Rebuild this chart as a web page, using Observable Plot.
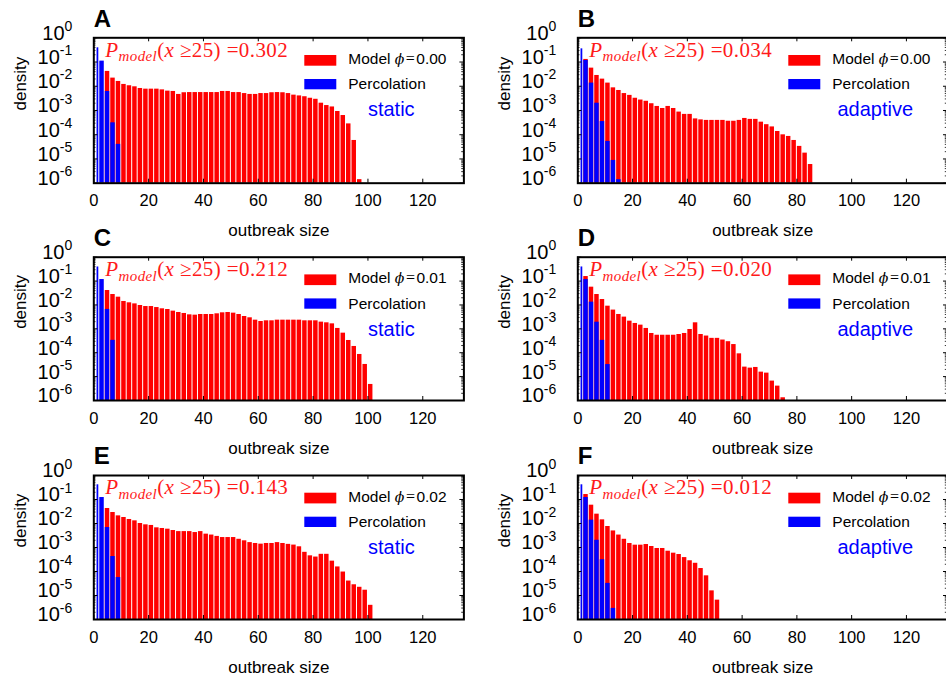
<!DOCTYPE html>
<html><head><meta charset="utf-8">
<script src="https://cdn.jsdelivr.net/npm/d3@7"></script>
<script src="https://cdn.jsdelivr.net/npm/@observablehq/plot@0.6"></script>
<style>
html,body{margin:0;padding:0;background:#fff;overflow:hidden;}
#fig{position:relative;width:946px;height:681px;overflow:hidden;background:#fff;}
#fig svg{position:absolute;overflow:visible;background:transparent;}
</style></head><body><div id="fig"></div>
<script>
const SANS = '"Liberation Sans", Arial, Helvetica, sans-serif';
const SERIF = '"Liberation Serif", "Times New Roman", serif';

// histogram bin edges (outbreak size)
const binEdges = [1,2,4,6,8,10,12,14,16,18,20,22,24,26,28,30,32,34,36,38,40,42,44,46,48,50,52,54,56,58,60,62,64,66,68,70,72,74,76,78,80,82,84,86,88,90,92,94,96,98,100,102];
const xTicks = [0,20,40,60,80,100,120];
const xTickLabels = ["0","20","40","60","80","100","120"];
const yTicks = [1e-6,1e-5,1e-4,1e-3,1e-2,1e-1,1];
const yTickExponents = ["-6","-5","-4","-3","-2","-1","0"];
const yMinorTicks = [2e-6,3e-6,4e-6,5e-6,6e-6,7e-6,8e-6,9e-6,2e-5,3e-5,4e-5,5e-5,6e-5,7e-5,8e-5,9e-5,2e-4,3e-4,4e-4,5e-4,6e-4,7e-4,8e-4,9e-4,2e-3,3e-3,4e-3,5e-3,6e-3,7e-3,8e-3,9e-3,0.02,0.03,0.04,0.05,0.06,0.07,0.08,0.09,0.2,0.3,0.4,0.5,0.6,0.7,0.8,0.9];

const panelLetters = ["A","B","C","D","E","F"];
const networkTypes = ["static","adaptive","static","adaptive","static","adaptive"];
const phiLabels = ["0.00","0.00","0.01","0.01","0.02","0.02"];
const pModelLabels = ["0.302","0.034","0.212","0.020","0.143","0.012"];

// density per bin (Model, red)
const modelA = [null,null,0.041,0.0217,0.0158,0.0119,0.0105,0.0095,0.0081,0.0076,0.0076,0.0076,0.0071,0.0063,0.0061,0.0046,0.0054,0.0055,0.0055,0.0055,0.0055,0.0055,0.0055,0.0061,0.0061,0.0055,0.0055,0.0050,0.0046,0.0046,0.0050,0.0050,0.0054,0.0055,0.0054,0.0050,0.0043,0.0040,0.0037,0.0032,0.0029,0.0020,0.0016,0.0014,0.00091,0.00062,0.00028,0.000058,0.0000014];
const modelB = [null,0.128,0.056,0.0279,0.0197,0.0135,0.0086,0.0067,0.0050,0.0042,0.0032,0.0027,0.0024,0.0019,0.00147,0.00121,0.00147,0.00121,0.00086,0.00069,0.00069,0.00045,0.00041,0.00039,0.00039,0.00039,0.00039,0.00036,0.00036,0.00039,0.00047,0.00043,0.00043,0.00033,0.00026,0.00021,0.000136,0.000099,0.000085,0.000058,0.000033,0.0000174,0.0000059];
const modelC = [null,null,0.0403,0.0274,0.0212,0.0140,0.0123,0.0111,0.0095,0.0086,0.0086,0.0078,0.0069,0.00646,0.00551,0.00484,0.00440,0.00386,0.00374,0.00399,0.00399,0.00399,0.00426,0.00469,0.00484,0.00454,0.00399,0.00329,0.00290,0.00231,0.00203,0.00217,0.00217,0.00231,0.00231,0.00231,0.00231,0.00231,0.00217,0.00217,0.00217,0.00191,0.00179,0.00162,0.00104,0.00066,0.000326,0.000183,0.0000846,0.0000323,0.0000047];
const modelD = [null,0.155,0.0556,0.0274,0.0169,0.0089,0.0061,0.0040,0.0031,0.0021,0.00168,0.00143,0.00104,0.00064,0.00054,0.00054,0.00054,0.00054,0.00058,0.00064,0.00094,0.00179,0.00058,0.00050,0.00040,0.00040,0.00034,0.00029,0.00022,0.000090,0.000025,0.0000227,0.0000242,0.0000154,0.0000140,0.0000065,0.0000040,0.0000013];
const modelE = [null,null,0.0422,0.0287,0.0208,0.0178,0.0147,0.0129,0.0100,0.0088,0.0083,0.0066,0.0062,0.0058,0.0051,0.0046,0.0046,0.0046,0.0042,0.0046,0.0036,0.0033,0.0029,0.0026,0.0026,0.0026,0.0022,0.0019,0.0016,0.00147,0.00138,0.00147,0.00147,0.0016,0.00147,0.00135,0.00126,0.00107,0.00063,0.00045,0.00040,0.00052,0.00052,0.00027,0.000155,0.000095,0.000040,0.000028,0.000022,0.0000166,0.0000039];
const modelF = [null,0.161,0.058,0.0245,0.0142,0.0075,0.0049,0.0033,0.0022,0.00147,0.00125,0.00125,0.00133,0.0011,0.00091,0.00091,0.0007,0.00058,0.00051,0.00038,0.00028,0.00022,0.000133,0.000066,0.0000156,0.0000064];

// density per bin (Percolation, blue)
const percA = [0.386,0.109,0.0061,0.00031,0.00004];
const percB = [0.35,0.116,0.0135,0.0020,0.00035,0.000053,0.0000087,0.0000014];
const percC = [0.39,0.116,0.0065,0.00033];
const percD = [0.39,0.116,0.0131,0.0019,0.00033,0.000032];
const percE = [0.41,0.121,0.0068,0.00042,0.000056];
const percF = [0.41,0.121,0.0138,0.0020,0.00031,0.000032,0.0000029];

const modelSeries = [modelA,modelB,modelC,modelD,modelE,modelF];
const percSeries = [percA,percB,percC,percD,percE,percF];

const rows = [{top:0, mTop:37.3, plotH:145.4},{top:219, mTop:37.7, plotH:143.3},{top:437, mTop:38, plotH:144}];
const cols = [{left:0, width:470, mLeft:93.3, mRight:6.6},{left:470, width:477, mLeft:107.3, mRight:0}];
const mBottom = 62;

function toBars(vals){
  const out = [];
  vals.forEach((v,k)=>{ if (v != null) out.push({x1: binEdges[k], x2: binEdges[k+1], y: v}); });
  return out;
}

function panel(i){
  const r = rows[Math.floor(i/2)], c = cols[i%2];
  const height = r.mTop + r.plotH + mBottom;
  const plotW = c.width - c.mLeft - c.mRight;
  const plotH = r.plotH;

  const yLabels = (index, scales, values, dims) => {
    const g = d3.create("svg:g").attr("font-family", SANS).attr("fill", "black");
    yTicks.forEach((v, k) => {
      const t = g.append("text").attr("x", dims.marginLeft - 21).attr("y", scales.y(v) + 2.4)
        .attr("text-anchor", "end").attr("font-size", 20);
      t.append("tspan").text("10");
      t.append("tspan").attr("font-size", 14).attr("dy", -8.7).text(yTickExponents[k]);
    });
    return g.node();
  };

  const annotations = (index, scales, values, dims) => {
    const x0 = dims.marginLeft, y0 = dims.marginTop;
    const g = d3.create("svg:g").attr("text-anchor", "start");
    // panel letter
    g.append("text").attr("x", x0 + 0.5).attr("y", y0 - 10.6).attr("font-family", SANS).attr("text-anchor", "start")
      .attr("font-weight", "bold").attr("font-size", 24).attr("fill", "black").text(panelLetters[i]);
    // P_model annotation
    const p = g.append("text").attr("x", x0 + 12).attr("y", y0 + 19.4).attr("font-family", SERIF).attr("text-anchor", "start")
      .attr("font-size", 21).attr("fill", "#ff1a1a").attr("letter-spacing", 0.4);
    p.append("tspan").attr("font-style", "italic").text("P");
    p.append("tspan").attr("font-style", "italic").attr("font-size", 15).attr("dy", 4.5).text("model");
    p.append("tspan").attr("dy", -4.5).text("(");
    p.append("tspan").attr("font-style", "italic").text("x");
    p.append("tspan").text(" \u226525) =" + pModelLabels[i]);
    // legend
    g.append("rect").attr("x", x0 + 211).attr("y", y0 + 17.7).attr("width", 32).attr("height", 10.7).attr("fill", "red");
    g.append("rect").attr("x", x0 + 211).attr("y", y0 + 41.7).attr("width", 32).attr("height", 10.3).attr("fill", "blue");
    const m = g.append("text").attr("x", x0 + 255).attr("y", y0 + 21 + 5.5).attr("font-family", SANS).attr("text-anchor", "start")
      .attr("font-size", 15.5).attr("fill", "black");
    m.append("tspan").text("Model ");
    m.append("tspan").attr("font-family", '"DejaVu Serif", serif').attr("font-style", "italic").attr("font-size", 14).text("\u03D5");
    m.append("tspan").attr("font-family", SERIF).attr("font-size", 16).attr("dx", 1.5).text("=");
    m.append("tspan").attr("dx", 1.5).text(phiLabels[i]);
    g.append("text").attr("x", x0 + 255).attr("y", y0 + 46.5 + 5.5).attr("font-family", SANS).attr("text-anchor", "start")
      .attr("font-size", 15.5).attr("fill", "black").text("Percolation");
    g.append("text").attr("x", x0 + 298).attr("y", y0 + 72 + 7).attr("text-anchor", "middle")
      .attr("font-family", SANS).attr("font-size", 20).attr("fill", "blue").text(networkTypes[i]);
    return g.node();
  };

  const chart = Plot.plot({
    width: c.width, height,
    marginLeft: c.mLeft, marginRight: c.mRight, marginTop: r.mTop, marginBottom: mBottom,
    x: {domain: [0, 135], axis: null},
    y: {type: "log", domain: [1e-6, 1], axis: null},
    style: {fontFamily: SANS, background: "transparent", overflow: "visible"},
    marks: [
      Plot.rectY(toBars(modelSeries[i]), {x1: "x1", x2: "x2", y1: () => 1e-6, y2: "y", fill: "red", insetLeft: 0.5, insetRight: 0.5}),
      Plot.rectY(toBars(percSeries[i]), {x1: "x1", x2: "x2", y1: () => 1e-6, y2: "y", fill: "blue", insetLeft: 0.5, insetRight: 0.5}),
      Plot.tickX(xTicks, {x: d => d, stroke: "black", strokeWidth: 1, insetTop: plotH - 4}),
      Plot.tickX(xTicks, {x: d => d, stroke: "black", strokeWidth: 1, insetBottom: plotH - 4}),
      Plot.tickY(yTicks, {y: d => d, stroke: "black", strokeWidth: 1, insetRight: plotW - 4}),
      Plot.tickY(yTicks, {y: d => d, stroke: "black", strokeWidth: 1, insetLeft: plotW - 4}),
      Plot.tickY(yMinorTicks, {y: d => d, stroke: "black", strokeWidth: 0.8, insetRight: plotW - 2.2}),
      Plot.tickY(yMinorTicks, {y: d => d, stroke: "black", strokeWidth: 0.8, insetLeft: plotW - 2.2}),
      Plot.frame({stroke: "black", strokeWidth: 2}),
      Plot.text(xTicks, {x: d => d, frameAnchor: "bottom", dy: 18, lineAnchor: "middle", text: (d, k) => xTickLabels[k], fontSize: 16.5, fill: "black"}),
      Plot.text(["outbreak size"], {frameAnchor: "bottom", dy: 47.7, lineAnchor: "middle", text: d => d, fontSize: 17, fill: "black"}),
      Plot.text(["density"], {frameAnchor: "left", dx: -73, rotate: -90, lineAnchor: "middle", text: d => d, fontSize: 17, fill: "black"}),
      yLabels,
      annotations
    ]
  });
  chart.style.left = c.left + "px";
  chart.style.top = r.top + "px";
  return chart;
}

const fig = document.getElementById("fig");
for (let i = 0; i < 6; i++) fig.appendChild(panel(i));
</script>
</body></html>
